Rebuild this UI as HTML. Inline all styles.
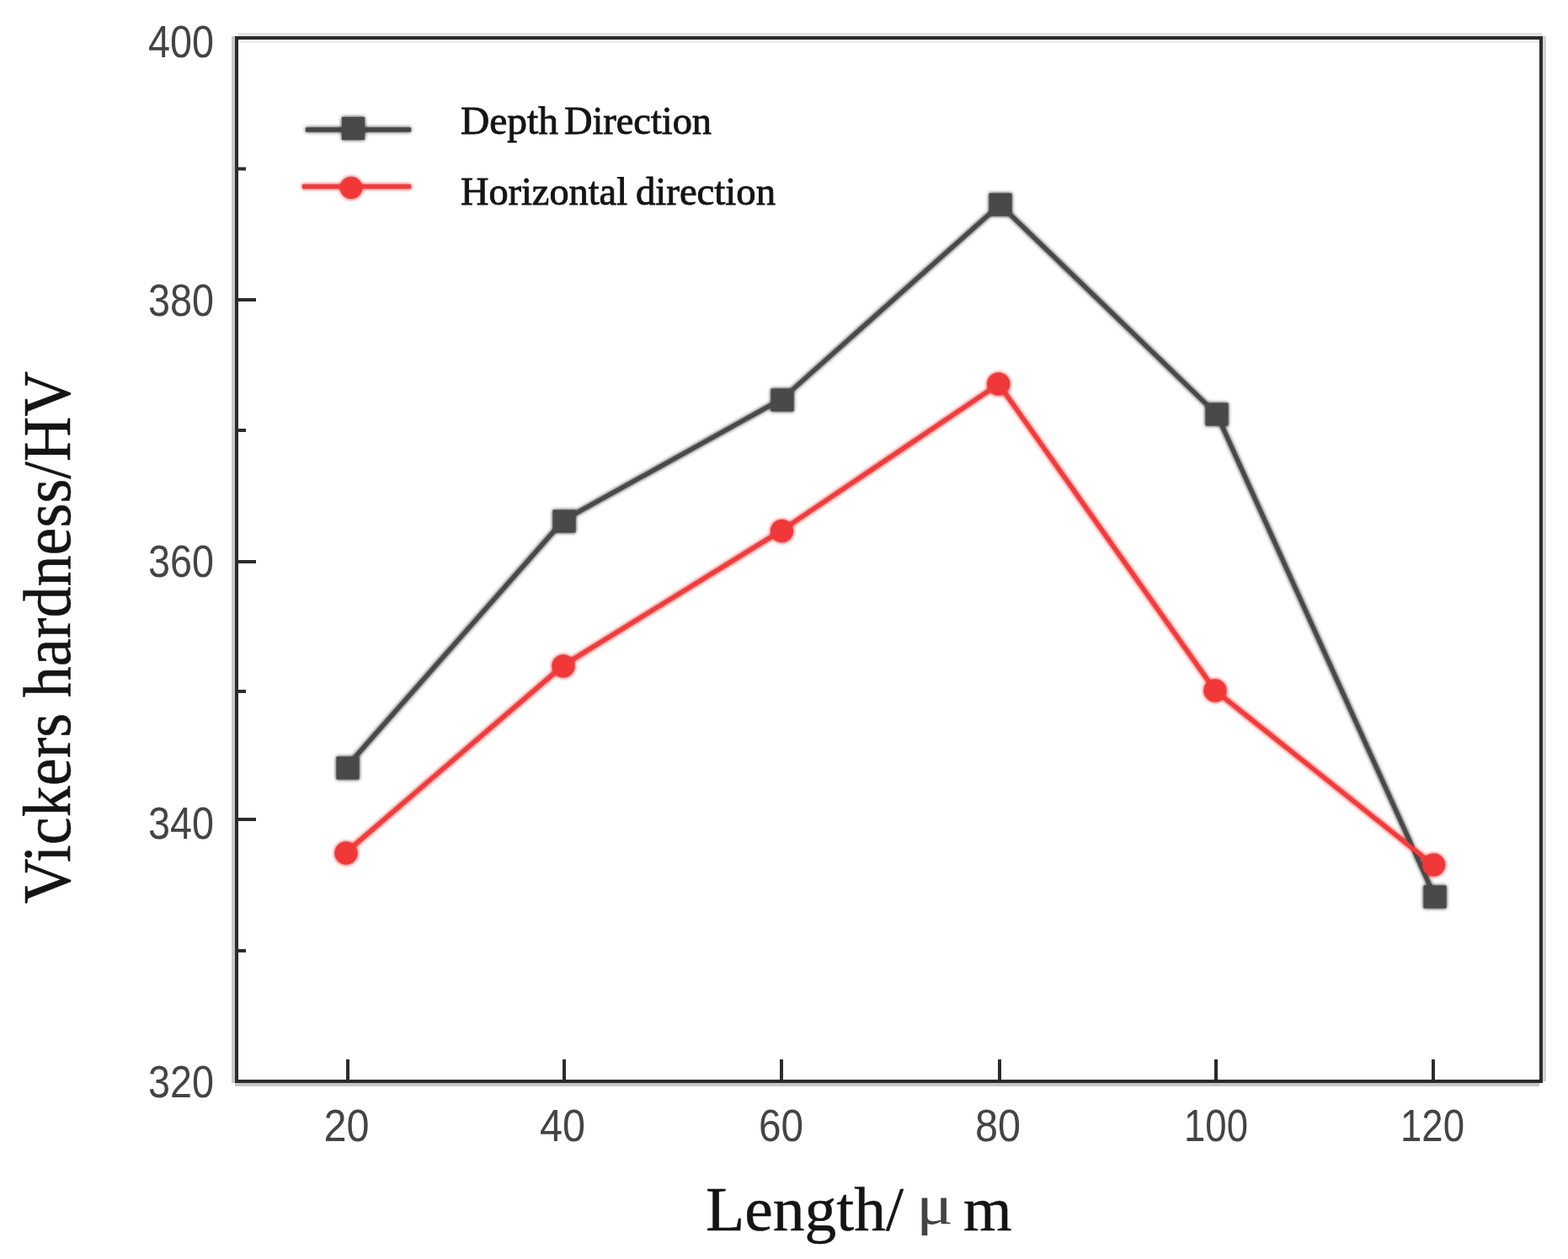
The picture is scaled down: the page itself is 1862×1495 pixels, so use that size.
<!DOCTYPE html>
<html>
<head>
<meta charset="utf-8">
<title>Vickers hardness chart</title>
<style>
html,body{margin:0;padding:0;background:#fff;}
body{width:1862px;height:1495px;overflow:hidden;}
svg{display:block;}
.tick{font-family:"Liberation Sans",sans-serif;font-size:53px;fill:#444444;}
.ser{font-family:"Liberation Serif",serif;fill:#141414;stroke:#141414;stroke-width:0.5;}
.leg{stroke-width:0.9;}
</style>
</head>
<body>
<svg width="1862" height="1495" viewBox="0 0 1862 1495">
<defs>
<filter id="halo" x="0" y="0" width="1862" height="1495" filterUnits="userSpaceOnUse">
<feGaussianBlur in="SourceGraphic" stdDeviation="2.200" result="b"/>
<feComponentTransfer in="b" result="c"><feFuncA type="linear" slope="1.350"/></feComponentTransfer>
<feMerge><feMergeNode in="c"/><feMergeNode in="SourceGraphic"/></feMerge>
</filter>
</defs>
<rect x="0" y="0" width="1862" height="1495" fill="#ffffff"/>

<!-- soft fringes around frame -->
<g id="fringe" fill="none" stroke-width="4">
<path d="M277 43V1286" stroke="#c9c9c9"/>
<path d="M283 41H1832" stroke="#e4e4e4"/>
<path d="M283 49H1828" stroke="#f1f1f1"/>
<path d="M1834 43V1284" stroke="#d2d2d2"/>
<path d="M279 1288H1828" stroke="#c6c6c6"/>
</g>

<!-- frame -->
<g id="frame" fill="none" stroke="#2b2b2b" stroke-width="4">
<rect x="281" y="45" width="1549" height="1239"/>
</g>

<!-- ticks -->
<g id="ticks" stroke="#2b2b2b" stroke-width="4" fill="none">
<path d="M281 356H304M281 667H304M281 973H304"/>
<path d="M281 200.5H292M281 511H292M281 821H292M281 1129H292"/>
<path d="M413 1284V1258M670 1284V1258M928 1284V1258M1187 1284V1258M1444 1284V1258M1702 1284V1258"/>
</g>

<!-- tick labels -->
<g id="ylabels" class="tick" text-anchor="end">
<text x="254" y="67.500" textLength="78" lengthAdjust="spacingAndGlyphs">400</text>
<text x="254" y="374.800" textLength="78" lengthAdjust="spacingAndGlyphs">380</text>
<text x="254" y="685.200" textLength="78" lengthAdjust="spacingAndGlyphs">360</text>
<text x="254" y="995.900" textLength="78" lengthAdjust="spacingAndGlyphs">340</text>
<text x="254" y="1303" textLength="78" lengthAdjust="spacingAndGlyphs">320</text>
</g>
<g id="xlabels" class="tick" text-anchor="middle">
<text x="411.500" y="1355" textLength="54" lengthAdjust="spacingAndGlyphs">20</text>
<text x="668" y="1355" textLength="54" lengthAdjust="spacingAndGlyphs">40</text>
<text x="927.500" y="1355" textLength="53" lengthAdjust="spacingAndGlyphs">60</text>
<text x="1185" y="1355" textLength="54" lengthAdjust="spacingAndGlyphs">80</text>
<text x="1444" y="1355" textLength="76" lengthAdjust="spacingAndGlyphs">100</text>
<text x="1701" y="1355" textLength="76" lengthAdjust="spacingAndGlyphs">120</text>
</g>

<!-- series -->
<g id="plot" filter="url(#halo)">
<g id="depth">
<polyline fill="none" stroke="#484848" stroke-width="5" stroke-linejoin="round" points="412,910 669.500,617.500 929,473.500 1187.500,243 1445,492 1704,1065"/>
<g fill="#4a4a4a">
<rect x="399.5" y="898.5" width="27" height="27"/>
<rect x="656.5" y="605.5" width="27" height="27"/>
<rect x="915.5" y="461.5" width="27" height="27"/>
<rect x="1174.5" y="229.5" width="27" height="27"/>
<rect x="1431.5" y="478.5" width="27" height="27"/>
<rect x="1690.5" y="1051.5" width="27" height="27"/>
</g>
</g>
<g id="horiz">
<polyline fill="none" stroke="#f23a3a" stroke-width="5" stroke-linejoin="round" points="411,1012 669,790 928,630 1186,456 1443,820 1702,1027"/>
<g fill="#f03838">
<circle cx="411" cy="1013" r="13.500"/>
<circle cx="669" cy="791" r="13.500"/>
<circle cx="928.500" cy="630.500" r="13.500"/>
<circle cx="1185.700" cy="456" r="13.500"/>
<circle cx="1443" cy="820" r="13.500"/>
<circle cx="1702.500" cy="1027" r="13.500"/>
</g>
</g>

<!-- legend -->
<g id="legend">
<g id="legmarks">
<line x1="363" y1="154" x2="488" y2="154" stroke="#444444" stroke-width="5"/>
<rect x="406" y="139" width="27" height="27" fill="#4a4a4a"/>
<line x1="359" y1="221.500" x2="488" y2="221.500" stroke="#f23a3a" stroke-width="5"/>
<circle cx="417" cy="223" r="13" fill="#f03838"/>
</g>
</g>
</g>
<g id="legtext">
<text class="ser leg" y="159" font-size="47"><tspan x="547" textLength="116" lengthAdjust="spacingAndGlyphs">Depth</tspan> <tspan x="670" textLength="175" lengthAdjust="spacingAndGlyphs">Direction</tspan></text>
<text class="ser leg" y="243" font-size="47"><tspan x="547" textLength="198" lengthAdjust="spacingAndGlyphs">Horizontal</tspan> <tspan x="755" textLength="166" lengthAdjust="spacingAndGlyphs">direction</tspan></text>
</g>

<!-- axis titles -->
<text class="ser" y="1461" font-size="74"><tspan x="838" textLength="235" lengthAdjust="spacingAndGlyphs">Length/</tspan> <tspan x="1088" y="1453" font-size="65" textLength="44" lengthAdjust="spacingAndGlyphs" fill="#444" stroke="none">μ</tspan> <tspan x="1144" y="1461">m</tspan></text>
<text class="ser" font-size="80" transform="translate(83,1073) rotate(-90)" textLength="632" lengthAdjust="spacingAndGlyphs">Vickers hardness/HV</text>
</svg>
</body>
</html>
